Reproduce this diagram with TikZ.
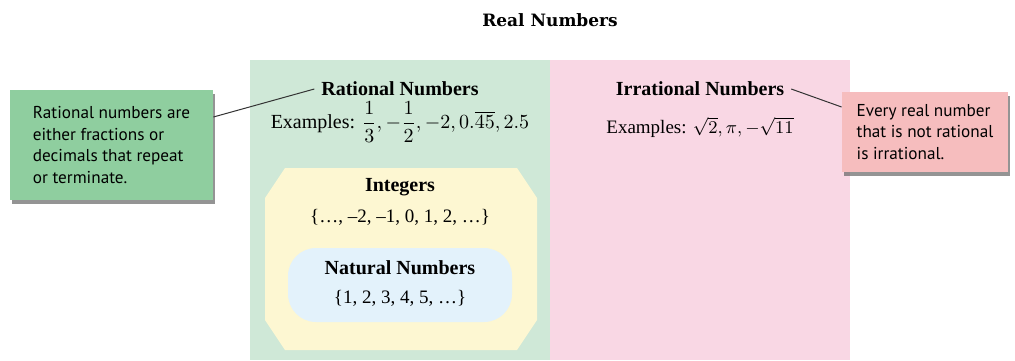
\documentclass[tikz,border=0pt]{standalone}
\usepackage{amsmath}
\usepackage{fontspec}
\setmainfont{Liberation Serif}
\newfontfamily\notefont{PT Sans}
\newfontfamily\titlefont{DejaVu Serif}
\usetikzlibrary{shadows}

\definecolor{ratgreen}{HTML}{CFE8D7}
\definecolor{irrpink}{HTML}{F9D7E4}
\definecolor{intyellow}{HTML}{FDF7D2}
\definecolor{natblue}{HTML}{E3F2FB}
\definecolor{notegreen}{HTML}{8FCE9F}
\definecolor{notepink}{HTML}{F6BDBE}

\begin{document}
\begin{tikzpicture}[
  x=0.5pt,y=-0.5pt,
  font=\fontsize{9.5}{11}\selectfont,
  panel/.style={anchor=north west,inner sep=0pt,minimum width=150pt,minimum height=150pt},
  head/.style={font=\fontsize{10}{12}\selectfont\bfseries},
  setline/.style={font=\fontsize{9.5}{11}\selectfont},
  note/.style={align=left,inner sep=4pt,
               font=\notefont\fontsize{8.6}{10.8}\selectfont,
               drop shadow={shadow xshift=1pt,shadow yshift=-1.8pt,fill=black!60,opacity=.7}},
  leader/.style={black!80,line width=0.5pt}
]
\useasboundingbox (0,0) rectangle (1015,360);

% panels
\node[panel,fill=ratgreen] (ratpanel) at (250,60) {};
\node[panel,fill=irrpink] (irrpanel) at (550,60) {};

% nested sets
\fill[intyellow] (285,168) -- (517,168) -- (537,198) -- (537,320) -- (517,350)
  -- (285,350) -- (265,320) -- (265,198) -- cycle;
\node[fill=natblue,rounded corners=14pt,inner sep=0pt,
      minimum width=112pt,minimum height=37pt] (natbox) at (400,285) {};

% title
\node[font=\titlefont\fontsize{8.5}{10}\selectfont\bfseries] (realnm) at (550,20) {Real Numbers};

% rational side
\node[head] (ratnm) at (400,89) {Rational Numbers};
\node[font=\fontsize{10}{12}\selectfont] (ratex) at (400,122) {Examples: $\dfrac{1}{3}, -\dfrac{1}{2}, -2, 0.\overline{45}, 2.5$};
\node[head] (intnm) at (400,187) {Integers};
\node[setline] (intset) at (400,217) {\{\dots, --2, --1, 0, 1, 2, \dots\}};
\node[head] (natnm) at (400,268) {Natural Numbers};
\node[setline] (natset) at (400,298) {\{1, 2, 3, 4, 5, \dots\}};

% irrational side
\node[head] (irrnm) at (700,89) {Irrational Numbers};
\node (irrex) at (700,127) {Examples: $\sqrt{2}, \pi, -\sqrt{11}$};

% callouts
\node[note,fill=notegreen,minimum width=101.5pt,minimum height=55pt] (ratnote) at (111.5,145)
  {Rational numbers are\\either fractions or\\decimals that repeat\\or terminate.};
\node[note,fill=notepink,minimum width=83pt,minimum height=40pt] (irrnote) at (925,132)
  {Every real number\\that is not rational\\is irrational.};

\draw[leader] ([yshift=14pt]ratnote.east) -- (ratnm.west);
\draw[leader] (irrnm.east) -- ([yshift=12.5pt]irrnote.west);
\end{tikzpicture}
\end{document}
